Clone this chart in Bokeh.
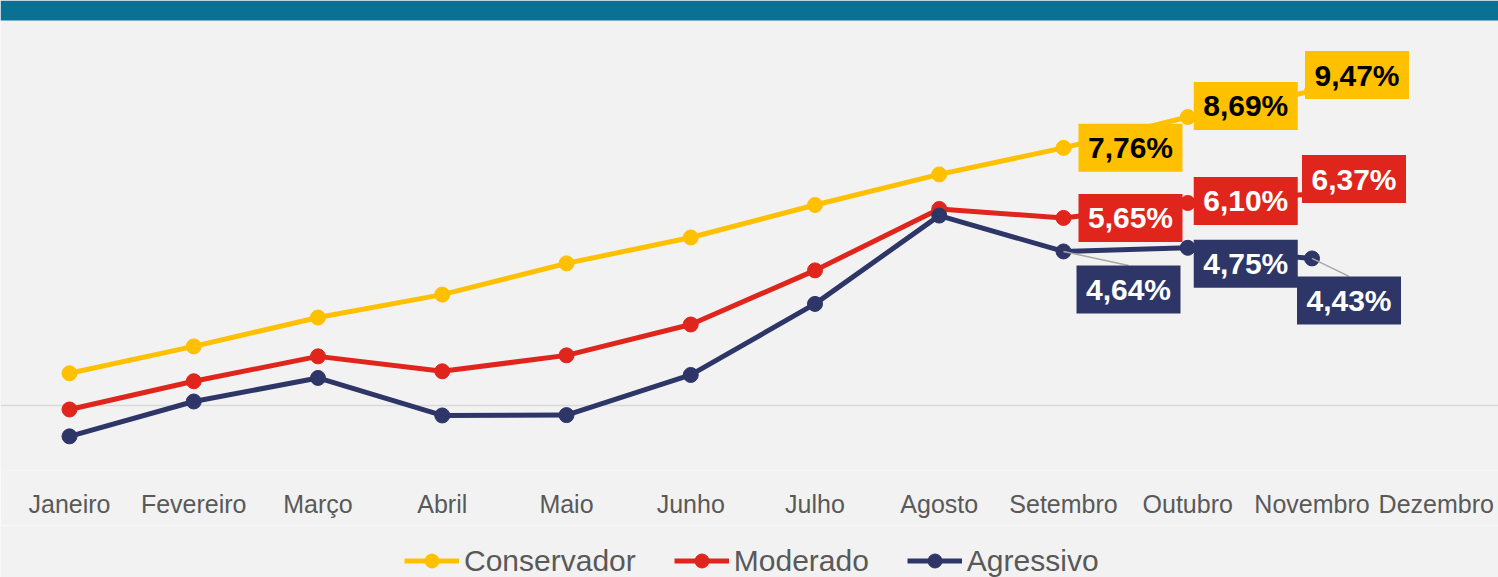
from bokeh.plotting import figure
from bokeh.layouts import column
from bokeh.models import (Range1d, FixedTicker, Span, BoxAnnotation, Legend,
                          LegendItem, ColumnDataSource)
from bokeh.core.properties import value
from bokeh.embed import file_html
from bokeh.resources import INLINE

# Monthly accumulated return (%) per allocation profile
months = ["Janeiro", "Fevereiro", "Março", "Abril", "Maio", "Junho", "Julho",
          "Agosto", "Setembro", "Outubro", "Novembro", "Dezembro"]
conservador = [0.97, 1.78, 2.65, 3.34, 4.28, 5.06, 6.04, 6.96, 7.76, 8.69, 9.47]
moderado = [-0.12, 0.73, 1.48, 1.03, 1.51, 2.44, 4.07, 5.92, 5.65, 6.10, 6.37]
agressivo = [-0.93, 0.12, 0.83, -0.30, -0.29, 0.92, 3.06, 5.72, 4.64, 4.75, 4.43]
labeled_months = [8, 9, 10]

YELLOW = "#FFC000"
RED = "#DF251C"
NAVY = "#2E3668"
BG = "#F2F2F2"
BAND = "#0B7194"

W = 1498
FRAME_H = 470
AXIS_H = 55
LEGEND_H = 577 - FRAME_H - AXIS_H
X0, X1 = -0.5553, 11.501
Y0, Y1 = -1.958, 12.199
PX = W / (X1 - X0)
PY = FRAME_H / (Y1 - Y0)

p = figure(width=W, height=FRAME_H + AXIS_H, x_range=Range1d(X0, X1),
           y_range=Range1d(Y0, Y1), output_backend="svg",
           toolbar_location=None, y_axis_location=None,
           min_border_left=0, min_border_right=0, min_border_top=0,
           min_border_bottom=AXIS_H)
p.background_fill_color = BG
p.border_fill_color = BG
p.outline_line_color = None
p.grid.visible = False

# header band
p.add_layout(BoxAnnotation(bottom=Y1 - 20 / PY, fill_color=BAND, fill_alpha=1,
                           line_color=None, level="underlay"))
# zero line
p.add_layout(Span(location=0, dimension="width", line_color="#D9D9D9",
                  line_width=1.5, level="underlay"))

ax = p.xaxis[0]
ax.ticker = FixedTicker(ticks=list(range(len(months))))
ax.major_label_overrides = {i: m for i, m in enumerate(months)}
ax.axis_line_color = None
ax.major_tick_line_color = None
ax.minor_tick_line_color = None
ax.major_label_standoff = 13
ax.major_label_text_font = "Liberation Sans"
ax.major_label_text_font_size = "25px"
ax.major_label_text_color = "#595959"

series = [
    ("Conservador", conservador, YELLOW, "black",
     [(67, 0), (58, 11), (45, 16)]),
    ("Moderado", moderado, RED, "white",
     [(67, 0), (58, 2), (42, 15)]),
    ("Agressivo", agressivo, NAVY, "white",
     [(65, -38), (58, -16), (37, -42)]),
]

for name, vals, color, _, _ in series:
    xs = list(range(len(vals)))
    p.line(xs, vals, line_color=color, line_width=5)
    p.scatter(xs, vals, size=15, fill_color=color, line_color=color)

# leader lines for the labels set below their points
lx0, ly0, lx1, ly1 = [], [], [], []
for k in (0, 2):
    i = labeled_months[k]
    dx, dy = series[2][4][k]
    lx0.append(i)
    ly0.append(agressivo[i])
    lx1.append(i + dx / PX)
    ly1.append(agressivo[i] + (dy + 24) / PY)
p.segment(lx0, ly0, lx1, ly1, line_color="#A6A6A6", line_width=1.5)

for name, vals, color, txt_color, offs in series:
    cx, cy, txt = [], [], []
    for i, (dx, dy) in zip(labeled_months, offs):
        cx.append(i + dx / PX)
        cy.append(vals[i] + dy / PY)
        txt.append(f"{vals[i]:.2f}%".replace(".", ","))
    src = ColumnDataSource(dict(x=cx, y=cy, t=txt))
    p.rect("x", "y", width=104, height=48, width_units="screen",
           height_units="screen", fill_color=color, line_color=None, source=src)
    p.text("x", "y", text="t", text_align="center", text_baseline="middle",
           text_font=value("Liberation Sans"), text_font_style="bold",
           text_font_size="30px", text_color=txt_color, source=src)

# legend strip under the chart; its renderers hold the series but sit
# outside the strip's visible range, so only the legend shows
lg = figure(width=W, height=LEGEND_H, output_backend="svg",
            toolbar_location=None, x_axis_location=None, y_axis_location=None,
            min_border=0, x_range=Range1d(0, 1), y_range=Range1d(100, 101))
lg.background_fill_color = BG
lg.border_fill_color = BG
lg.outline_line_color = None
lg.grid.visible = False

items = []
for name, vals, color, _, _ in series:
    xs = list(range(len(vals)))
    r1 = lg.line(xs, vals, line_color=color, line_width=5)
    r2 = lg.scatter(xs, vals, size=15, fill_color=color, line_color=color)
    items.append(LegendItem(label=name, renderers=[r1, r2]))

legend = Legend(items=items, orientation="horizontal", location=(404, -1),
                padding=0, margin=0, spacing=38, label_standoff=5,
                glyph_width=55, glyph_height=35,
                label_text_font="Liberation Sans", label_text_font_size="30px",
                label_text_color="#595959",
                background_fill_alpha=0, border_line_alpha=0)
lg.add_layout(legend)

open("out.html", "w").write(file_html(column(p, lg, spacing=0), INLINE))
